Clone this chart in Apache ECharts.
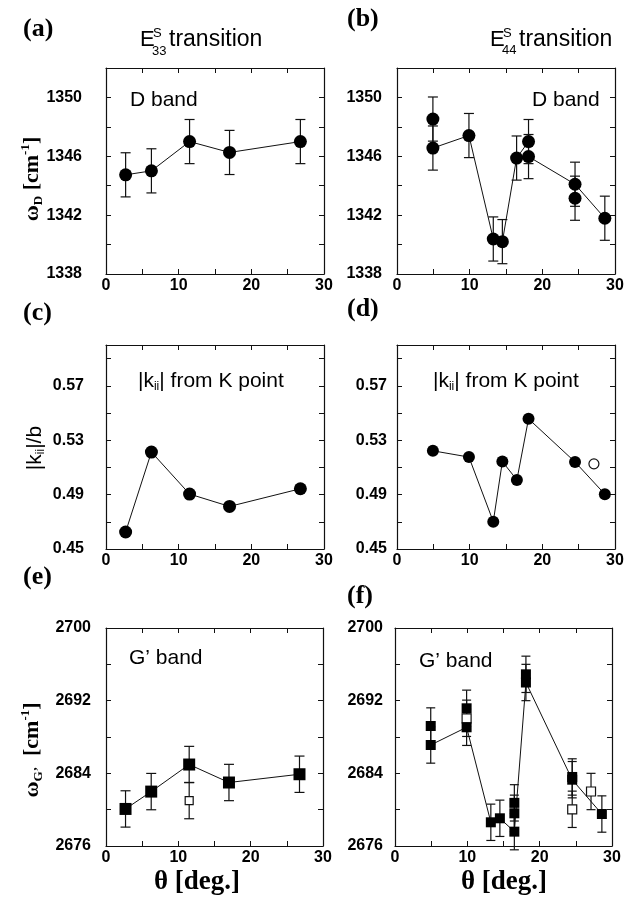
<!DOCTYPE html>
<html>
<head>
<meta charset="utf-8">
<script src="https://cdn.jsdelivr.net/npm/echarts@6/dist/echarts.min.js"></script>
<style>
html, body { margin: 0; padding: 0; background: #fff; }
#chart { width: 642px; height: 905px; }
</style>
</head>
<body>
<div id="chart"></div>
<script>
// theta axis
const xLabels = [0, 10, 20, 30]
const xTicks = [0, 5, 10, 15, 20, 25, 30]
// value axes
const dLabels = [1338, 1342, 1346, 1350]
const dTicks = [1338, 1340, 1342, 1344, 1346, 1348, 1350, 1352]
const kLabels = [0.45, 0.49, 0.53, 0.57]
const kTicks = [0.45, 0.47, 0.49, 0.51, 0.53, 0.55, 0.57, 0.59]
const gLabels = [2676, 2684, 2692, 2700]
const gTicks = [2676, 2680, 2684, 2688, 2692, 2696, 2700]

// E33 transition (left column)
const thetaL = [2.7, 6.25, 11.5, 17.0, 26.75]
const dBandL = [1344.74, 1345.01, 1347.0, 1346.26, 1347.0]
const dErrL = [1.5, 1.5, 1.5, 1.5, 1.5]
const kiiL = [0.4625, 0.5213, 0.4904, 0.4813, 0.4943]
const gBandL = [2680.08, 2681.99, 2684.97, 2682.99, 2683.9]
const gErrL = [2, 2, 2, 2, 2]
const gOpenThetaL = [11.5]
const gOpenL = [2681.0]
const gOpenErrL = [2]

// E44 transition (right column)
const thetaDR = [4.94, 4.94, 9.9, 13.25, 14.5, 16.46, 18.1, 18.1, 24.5, 24.5, 28.6]
const dBandR = [1348.53, 1346.56, 1347.41, 1340.38, 1340.2, 1345.88, 1347.0, 1345.98, 1344.1, 1343.15, 1341.79]
const dErrR = [1.5, 1.5, 1.5, 1.5, 1.5, 1.5, 1.5, 1.5, 1.5, 1.5, 1.5]
const dLineR = [1, 2, 3, 4, 5, 6, 7, 8, 10]   // points joined by the line
const thetaKR = [4.94, 9.9, 13.25, 14.5, 16.5, 18.1, 24.5, 28.6]
const kiiR = [0.5222, 0.5176, 0.4701, 0.5143, 0.5008, 0.5457, 0.514, 0.4903]
const kOpenThetaR = [27.1]
const kOpenR = [0.5126]
const thetaGR = [4.94, 4.94, 9.9, 9.9, 13.25, 14.5, 16.5, 16.5, 16.5, 18.1, 18.1, 24.5, 24.5, 28.6]
const gBandR = [2689.21, 2687.12, 2691.16, 2689.07, 2678.61, 2679.05, 2680.75, 2679.6, 2677.58, 2694.9, 2694.0, 2683.6, 2683.3, 2679.52]
const gErrR = [2, 2, 2, 2, 2, 2, 2, 2, 2, 2, 2, 2, 2, 2]
const gLineR = [1, 3, 4, 5, 8, 10, 12, 13]
const gOpenThetaR = [9.9, 24.5, 27.1]
const gOpenR = [2690.06, 2680.04, 2682.0]
const gOpenErrR = [2, 2, 2]

const tickFont = "'Liberation Sans Narrow', 'Liberation Sans', Arial, sans-serif"
const sans = "'Liberation Sans', Arial, sans-serif"
const serif = "'Liberation Serif', 'Times New Roman', serif"
const ink = '#111'

const panels = [
    { left: 106, top: 68, width: 218, height: 206, min: 1338, max: 1352, labels: dLabels, ticks: dTicks, gap: 24 },
    { left: 397, top: 68, width: 218, height: 206, min: 1338, max: 1352, labels: dLabels, ticks: dTicks, gap: 15 },
    { left: 106, top: 345, width: 218, height: 204, min: 0.45, max: 0.60, labels: kLabels, ticks: kTicks, gap: 22 },
    { left: 397, top: 345, width: 218, height: 204, min: 0.45, max: 0.60, labels: kLabels, ticks: kTicks, gap: 10 },
    { left: 106, top: 628, width: 217, height: 218, min: 2676, max: 2700, labels: gLabels, ticks: gTicks, gap: 15 },
    { left: 395, top: 628, width: 217, height: 218, min: 2676, max: 2700, labels: gLabels, ticks: gTicks, gap: 12 }
]

let grid = [], xAxis = [], yAxis = []
panels.forEach((p, i) => {
    grid.push({ left: p.left, top: p.top, width: p.width, height: p.height })
    let line = { show: true, onZero: false, lineStyle: { color: ink, width: 1.2 } }
    let tick = (vals) => ({ show: true, inside: true, length: 5, customValues: vals, lineStyle: { color: ink, width: 1 } })
    let lab = { fontFamily: tickFont, fontWeight: 'bold', fontSize: 16, color: '#000', formatter: v => String(v) }
    xAxis.push({ type: 'value', gridIndex: i, min: 0, max: 30, position: 'bottom', axisLine: line, axisTick: tick(xTicks),
        splitLine: { show: false }, axisLabel: Object.assign({ customValues: xLabels, margin: 4 }, lab) })
    xAxis.push({ type: 'value', gridIndex: i, min: 0, max: 30, position: 'top', axisLine: line, axisTick: tick(xTicks),
        splitLine: { show: false }, axisLabel: { show: false } })
    yAxis.push({ type: 'value', gridIndex: i, min: p.min, max: p.max, position: 'left', axisLine: line, axisTick: tick(p.ticks),
        splitLine: { show: false }, axisLabel: Object.assign({ customValues: p.labels, margin: p.gap }, lab) })
    yAxis.push({ type: 'value', gridIndex: i, min: p.min, max: p.max, position: 'right', axisLine: line, axisTick: tick(p.ticks),
        splitLine: { show: false }, axisLabel: { show: false } })
})

function errBars(i, xs, ys, errs, cap) {
    return {
        type: 'custom', xAxisIndex: 2 * i, yAxisIndex: 2 * i, z: 1, silent: true,
        data: xs.map((x, j) => [x, ys[j] - errs[j], ys[j] + errs[j]]),
        renderItem: function (params, api) {
            let lo = api.coord([api.value(0), api.value(1)])
            let hi = api.coord([api.value(0), api.value(2)])
            let st = { stroke: ink, lineWidth: 1.2 }
            return { type: 'group', children: [
                { type: 'line', shape: { x1: lo[0], y1: lo[1], x2: hi[0], y2: hi[1] }, style: st },
                { type: 'line', shape: { x1: lo[0] - cap / 2, y1: lo[1], x2: lo[0] + cap / 2, y2: lo[1] }, style: st },
                { type: 'line', shape: { x1: hi[0] - cap / 2, y1: hi[1], x2: hi[0] + cap / 2, y2: hi[1] }, style: st }
            ] }
        }
    }
}

function marks(i, xs, ys, symbol, size, open) {
    return {
        type: 'scatter', xAxisIndex: 2 * i, yAxisIndex: 2 * i, z: 3, symbol: symbol, symbolSize: size,
        data: xs.map((x, j) => [x, ys[j]]),
        itemStyle: open ? { color: '#fff', borderColor: ink, borderWidth: 1.2, opacity: 1 } : { color: '#000', opacity: 1 }
    }
}

function joinLine(i, xs, ys, idx) {
    let pts = idx ? idx.map(k => [xs[k], ys[k]]) : xs.map((x, j) => [x, ys[j]])
    return {
        type: 'line', xAxisIndex: 2 * i, yAxisIndex: 2 * i, z: 2, symbol: 'none', silent: true,
        data: pts, lineStyle: { color: ink, width: 1 }
    }
}

let series = [
    // (a)
    errBars(0, thetaL, dBandL, dErrL, 10),
    joinLine(0, thetaL, dBandL),
    marks(0, thetaL, dBandL, 'circle', 13),
    // (b)
    errBars(1, thetaDR, dBandR, dErrR, 10),
    joinLine(1, thetaDR, dBandR, dLineR),
    marks(1, thetaDR, dBandR, 'circle', 13),
    // (c)
    joinLine(2, thetaL, kiiL),
    marks(2, thetaL, kiiL, 'circle', 13),
    // (d)
    joinLine(3, thetaKR, kiiR),
    marks(3, thetaKR, kiiR, 'circle', 12),
    marks(3, kOpenThetaR, kOpenR, 'circle', 10, true),
    // (e)
    errBars(4, thetaL, gBandL, gErrL, 10),
    errBars(4, gOpenThetaL, gOpenL, gOpenErrL, 10),
    joinLine(4, thetaL, gBandL),
    marks(4, thetaL, gBandL, 'rect', 12),
    marks(4, gOpenThetaL, gOpenL, 'rect', 8, true),
    // (f)
    errBars(5, thetaGR, gBandR, gErrR, 9),
    errBars(5, gOpenThetaR, gOpenR, gOpenErrR, 9),
    joinLine(5, thetaGR, gBandR, gLineR),
    marks(5, gOpenThetaR, gOpenR, 'rect', 9, true),
    marks(5, thetaGR, gBandR, 'rect', 10)
]

function txt(x, y, text, font, size, weight, align) {
    return { type: 'text', x: x, y: y, style: { text: text, fontFamily: font, fontSize: size, fontWeight: weight || 'normal',
        fill: '#000', align: align || 'left', verticalAlign: 'middle' } }
}

function vname(x, y, text, rich, size, font, weight) {
    return { type: 'text', x: x, y: y, rotation: Math.PI / 2,
        style: { text: text, rich: rich, fontFamily: font, fontSize: size, fontWeight: weight, fill: '#000',
            align: 'center', verticalAlign: 'middle' } }
}

const omegaRich = {
    w: { fontFamily: serif, fontSize: 22, fontWeight: 'bold', lineHeight: 26, verticalAlign: 'middle' },
    s: { fontFamily: serif, fontSize: 13, fontWeight: 'bold', lineHeight: 13, verticalAlign: 'bottom' },
    p: { fontFamily: serif, fontSize: 13, fontWeight: 'bold', lineHeight: 13, verticalAlign: 'top' }
}
const kRich = {
    t: { fontFamily: sans, fontSize: 21, lineHeight: 24, verticalAlign: 'middle' },
    s: { fontFamily: sans, fontSize: 12, lineHeight: 12, verticalAlign: 'bottom' }
}

let graphic = [
    txt(23, 29, '(a)', serif, 26, 'bold'),
    txt(347, 19, '(b)', serif, 26, 'bold'),
    txt(23, 313, '(c)', serif, 26, 'bold'),
    txt(347, 309, '(d)', serif, 26, 'bold'),
    txt(23, 577, '(e)', serif, 26, 'bold'),
    txt(347, 596, '(f)', serif, 26, 'bold'),
    // titles
    txt(140, 40, 'E', sans, 22), txt(153, 33, 'S', sans, 13), txt(152, 51, '33', sans, 13),
    txt(169, 40, 'transition', sans, 23),
    txt(490, 40, 'E', sans, 22), txt(503, 33, 'S', sans, 13), txt(502, 50, '44', sans, 13),
    txt(519, 40, 'transition', sans, 23),
    // in-panel notes
    txt(130, 100, 'D band', sans, 21),
    txt(532, 100, 'D band', sans, 21),
    { type: 'text', x: 138, y: 381, style: { text: '{t||k}{s|ii}{t|| from K point}', rich: kRich, fill: '#000', align: 'left', verticalAlign: 'middle' } },
    { type: 'text', x: 433, y: 381, style: { text: '{t||k}{s|ii}{t|| from K point}', rich: kRich, fill: '#000', align: 'left', verticalAlign: 'middle' } },
    txt(129, 658, 'G\u2019 band', sans, 21),
    txt(419, 661, 'G\u2019 band', sans, 21),
    // axis names
    vname(32, 179, '{w|\u03c9}{s|D} {w|[cm}{p|-1}{w|]}', omegaRich, 22, serif, 'bold'),
    vname(35, 448, '{t||k}{s|ii}{t||/b}', kRich, 21, sans, 'normal'),
    vname(32, 750, '{w|\u03c9}{s|G\u2019}  {w|[cm}{p|-1}{w|]}', omegaRich, 22, serif, 'bold'),
    txt(197, 882, '\u03b8 [deg.]', serif, 27, 'bold', 'center'),
    txt(504, 882, '\u03b8 [deg.]', serif, 27, 'bold', 'center')
]

let myChart = echarts.init(document.getElementById('chart'))
myChart.setOption({
    animation: false,
    backgroundColor: '#fff',
    grid: grid,
    xAxis: xAxis,
    yAxis: yAxis,
    graphic: graphic,
    series: series
})
</script>
</body>
</html>
